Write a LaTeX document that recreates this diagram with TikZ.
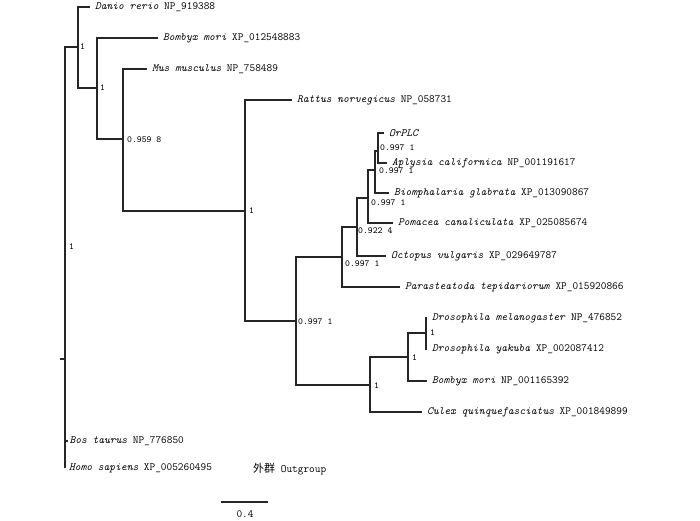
\documentclass[tikz,border=0pt]{standalone}
\usepackage{fontspec}
\newfontfamily\cjkfont{Noto Sans CJK SC}
\usetikzlibrary{calc, positioning}

\begin{document}
\begin{tikzpicture}[
						x=1pt, y=-1pt,
						branch/.style = {draw=black!85, line width=1.1pt},
						leaf/.style = {anchor=west, inner xsep=5pt, inner ysep=2pt, outer sep=0pt, font=\ttfamily\fontsize{11}{11}\selectfont},
						bsval/.style = {anchor=west, inner sep=1pt, font=\ttfamily\fontsize{9.3}{9.3}\selectfont}
					]

					\useasboundingbox (0,0) rectangle (700,520);

					\coordinate (root) at (65,359);
					\coordinate (stub) at (60,359);
					\coordinate (nA) at (78,47);
					\coordinate (nB) at (97,88);
					\coordinate (nC) at (123,139);
					\coordinate (nD) at (245,211);
					\coordinate (nE) at (296,321);
					\coordinate (nF) at (342,257);
					\coordinate (nG) at (357,227);
					\coordinate (nH) at (368,198);
					\coordinate (nJ) at (375,170);
					\coordinate (nI) at (378,151);
					\coordinate (nK) at (370,385);
					\coordinate (nL) at (408,357);
					\coordinate (nM) at (426,333);

					\node[leaf] (danio) at (90,7) {\textit{Danio rerio} NP\_919388};
					\node[leaf] (bmorixp) at (158,38) {\textit{Bombyx mori} XP\_012548883};
					\node[leaf] (mus) at (147,69) {\textit{Mus musculus} NP\_758489};
					\node[leaf] (rattus) at (292,100) {\textit{Rattus norvegicus} NP\_058731};
					\node[leaf] (orplc) at (384,133) {\textit{OrPLC}};
					\node[leaf] (aplysia) at (387,163) {\textit{Aplysia californica} NP\_001191617};
					\node[leaf] (biom) at (389,193) {\textit{Biomphalaria glabrata} XP\_013090867};
					\node[leaf] (pomacea) at (393,223) {\textit{Pomacea canaliculata} XP\_025085674};
					\node[leaf] (octopus) at (386,256) {\textit{Octopus vulgaris} XP\_029649787};
					\node[leaf] (parast) at (400,287) {\textit{Parasteatoda tepidariorum} XP\_015920866};
					\node[leaf] (dmel) at (427,318) {\textit{Drosophila melanogaster} NP\_476852};
					\node[leaf] (dyak) at (427,349) {\textit{Drosophila yakuba} XP\_002087412};
					\node[leaf] (bmorinp) at (427,381) {\textit{Bombyx mori} NP\_001165392};
					\node[leaf] (culex) at (422,412) {\textit{Culex quinquefasciatus} XP\_001849899};
					\node[leaf, inner xsep=1.5pt] (bos) at (68,441) {\textit{Bos taurus} NP\_776850};
					\node[leaf, inner xsep=4pt] (homo) at (65,468) {\textit{Homo sapiens} XP\_005260495};
					\node[anchor=west, inner sep=0pt, font=\ttfamily\fontsize{11}{11}\selectfont] (outgrp) at (253,469) {{\cjkfont 外群} Outgroup};

					\draw[branch] (stub) -- (root);
					\draw[branch] (root) |- (nA);
					\draw[branch] (root) |- (bos.west);
					\draw[branch] (root) |- (homo.west);
					\draw[branch] (nA) |- (danio.west);
					\draw[branch] (nA) |- (nB);
					\draw[branch] (nB) |- (bmorixp.west);
					\draw[branch] (nB) |- (nC);
					\draw[branch] (nC) |- (mus.west);
					\draw[branch] (nC) |- (nD);
					\draw[branch] (nD) |- (rattus.west);
					\draw[branch] (nD) |- (nE);
					\draw[branch] (nE) |- (nF);
					\draw[branch] (nE) |- (nK);
					\draw[branch] (nF) |- (nG);
					\draw[branch] (nF) |- (parast.west);
					\draw[branch] (nG) |- (nH);
					\draw[branch] (nG) |- (octopus.west);
					\draw[branch] (nH) |- (nJ);
					\draw[branch] (nH) |- (pomacea.west);
					\draw[branch] (nJ) |- (nI);
					\draw[branch] (nJ) |- (biom.west);
					\draw[branch] (nI) |- (orplc.west);
					\draw[branch] (nI) |- (aplysia.west);
					\draw[branch] (nK) |- (nL);
					\draw[branch] (nK) |- (culex.west);
					\draw[branch] (nL) |- (nM);
					\draw[branch] (nL) |- (bmorinp.west);
					\draw[branch] (nM) |- (dmel.west);
					\draw[branch] (nM) |- (dyak.west);

					\node[bsval] (sR) at (68,247) {1};
					\node[bsval, right=1pt of nA] (sA) {1};
					\node[bsval, right=2pt of nB] (sB) {1};
					\node[bsval, right=3pt of nC, yshift=-1pt] (sC) {0.959 8};
					\node[bsval, right=3pt of nD] (sD) {1};
					\node[bsval, right=1pt of nE, yshift=-1pt] (sE) {0.997 1};
					\node[bsval, right=2pt of nF, yshift=-7pt] (sF) {0.997 1};
					\node[bsval, right=0pt of nG, yshift=-4pt] (sG) {0.922 4};
					\node[bsval, right=2pt of nH, yshift=-5pt] (sH) {0.997 1};
					\node[bsval, right=3pt of nJ, yshift=-1pt] (sJ) {0.997 1};
					\node[bsval, right=1pt of nI, yshift=3pt] (sI) {0.997 1};
					\node[bsval, right=3pt of nK, yshift=-1pt] (sK) {1};
					\node[bsval, right=3pt of nL, yshift=-1pt] (sL) {1};
					\node[bsval, right=3pt of nM] (sM) {1};

					\coordinate (barl) at (221,502);
					\coordinate (barr) at (268,502);
					\draw[branch] (barl) -- (barr);
					\node[font=\ttfamily\fontsize{11}{11}\selectfont, inner sep=0pt] (barval) at (245,514) {0.4};
				\end{tikzpicture}
\end{document}
